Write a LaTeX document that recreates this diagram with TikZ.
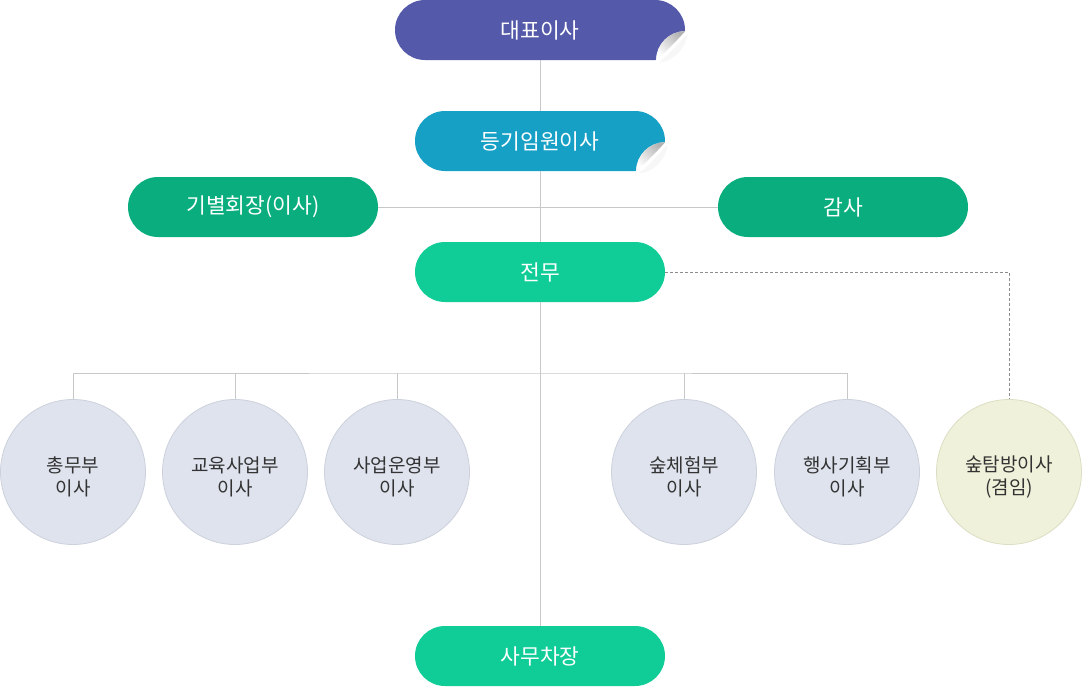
\documentclass[tikz,border=0pt]{standalone}
\usepackage{fontspec}
\setmainfont{Noto Sans CJK KR}
\usetikzlibrary{calc}
\definecolor{ceoC}{RGB}{85,89,169}
\definecolor{regC}{RGB}{22,160,198}
\definecolor{darkG}{RGB}{10,174,126}
\definecolor{lightG}{RGB}{16,205,152}
\definecolor{lineC}{RGB}{200,200,200}
\definecolor{circF}{RGB}{223,227,238}
\definecolor{circD}{RGB}{205,209,220}
\definecolor{yelF}{RGB}{240,241,218}
\definecolor{yelD}{RGB}{220,222,195}
\definecolor{txtC}{RGB}{51,51,51}
\newcommand\pagecurl[1]{%
  \begin{scope}[shift={(#1.south east)}]
    \fill[white] (-29,1.5) -- (-29,0) .. controls (-29,-16) and (-16,-29) .. (0,-29) -- (0,-31) -- (2,-31) -- (2,1.5) -- cycle;
    \shade[left color=black!30, right color=white, shading angle=-45]
      (-29,0) .. controls (-29,-16) and (-16,-29) .. (0,-29)
      .. controls (-9,-19) and (-19,-9) .. cycle;
    \fill[black!3] (-26,2) .. controls (-16,-6) and (-6,-18) .. (2,-26)
      .. controls (2,-14) and (-12,2) .. cycle;
  \end{scope}}
\begin{document}
\begin{tikzpicture}[x=1pt,y=-1pt,
  pill/.style={rectangle, rounded corners=30pt, minimum width=250pt, minimum height=60pt,
    inner sep=0pt, text=white, font=\fontsize{21.5pt}{25pt}\selectfont},
  circ/.style={circle, minimum size=145pt, inner sep=0pt, fill=circF, draw=circD, line width=0.8pt},
  ctext/.style={align=center, inner sep=0pt, text=txtC, font=\fontsize{19pt}{23pt}\selectfont},
  conn/.style={draw=lineC, line width=1pt},
  dconn/.style={draw=black!45, line width=0.8pt, dash pattern=on 3pt off 2pt}]
\fill[white] (0,0) rectangle (1082,686);
\useasboundingbox (0,0) rectangle (1082,686);
% nodes
\node[pill, fill=ceoC, minimum width=290pt] (ceo) at (540,30) {대표이사};
\node[pill, fill=regC] (reg) at (540,141) {등기임원이사};
\node[pill, fill=darkG] (chair) at (253,207) {기별회장(이사)};
\node[pill, fill=darkG] (audit) at (843,207) {감사};
\node[pill, fill=lightG] (exec) at (540,272) {전무};
\node[pill, fill=lightG] (sec) at (540,656) {사무차장};
\node[circ] (c1) at (73,472) {};
\node[circ] (c2) at (235,472) {};
\node[circ] (c3) at (397,472) {};
\node[circ] (c4) at (684,472) {};
\node[circ] (c5) at (847,472) {};
\node[circ, fill=yelF, draw=yelD] (c6) at (1009,472) {};
\node[ctext] (t1) at ([yshift=-5pt]c1.center) {총무부\\이사};
\node[ctext] (t2) at ([yshift=-5pt]c2.center) {교육사업부\\이사};
\node[ctext] (t3) at ([yshift=-5pt]c3.center) {사업운영부\\이사};
\node[ctext] (t4) at ([yshift=-5pt]c4.center) {숲체험부\\이사};
\node[ctext] (t5) at ([yshift=-5pt]c5.center) {행사기획부\\이사};
\node[ctext] (t6) at ([yshift=-5pt]c6.center) {숲탐방이사\\(겸임)};
\pagecurl{ceo}
\pagecurl{reg}
% connectors
\coordinate (bar) at (540,373);
\draw[conn] (ceo.south) -- (reg.north);
\draw[conn] (reg.south) -- (exec.north);
\draw[conn] (exec.south) -- (sec.north);
\draw[conn] (chair.east) -- (audit.west);
\draw[conn] (c1.north) |- (bar) -| (c5.north);
\draw[conn] (c2.north) -- (c2.north |- bar);
\draw[conn] (c3.north) -- (c3.north |- bar);
\draw[conn] (c4.north) -- (c4.north |- bar);
\draw[dconn] (exec.east) -| (c6.north);
\end{tikzpicture}
\end{document}
